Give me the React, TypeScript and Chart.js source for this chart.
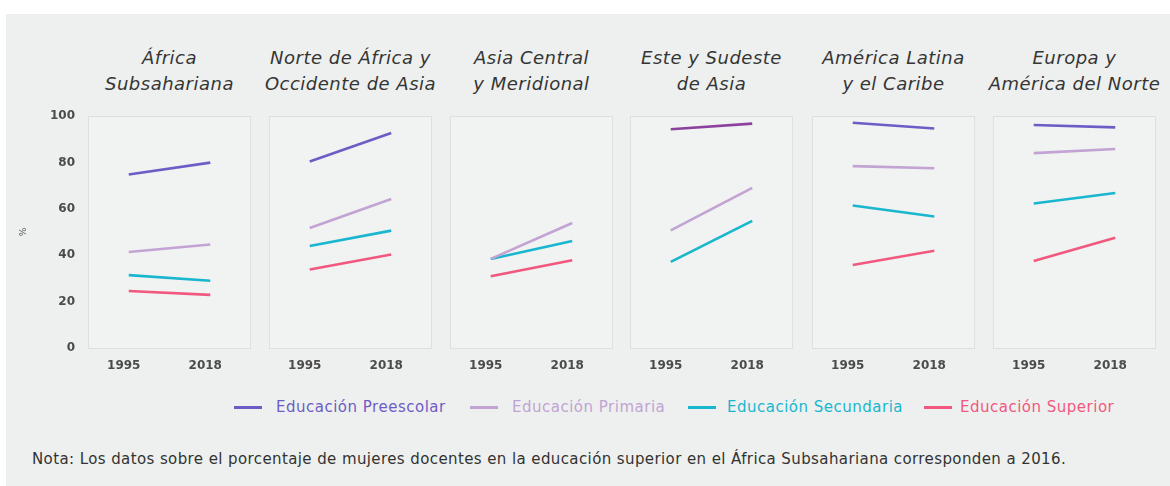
import React, { useEffect, useRef } from "react";
import { Chart, registerables } from "chart.js";
Chart.register(...registerables);

const years = ["1995", "2018"];
const regions = [
  ["África", "Subsahariana"],
  ["Norte de África y", "Occidente de Asia"],
  ["Asia Central", "y Meridional"],
  ["Este y Sudeste", "de Asia"],
  ["América Latina", "y el Caribe"],
  ["Europa y", "América del Norte"],
];
const seriesNames = ["Educación Preescolar", "Educación Primaria", "Educación Secundaria", "Educación Superior"];
// values per region: [1995, 2018]
const preescolar = [[74.8, 79.9], [80.4, 92.7], [null, null], [94.3, 96.7], [97.1, 94.6], [96.1, 95.1]];
const primaria = [[41.4, 44.6], [51.7, 64.2], [38.4, 53.9], [50.7, 69.0], [78.4, 77.5], [84.0, 85.8]];
const secundaria = [[31.4, 29.0], [44.0, 50.6], [38.4, 46.1], [37.1, 54.8], [61.4, 56.7], [62.3, 66.8]];
const superior = [[24.6, 22.9], [33.8, 40.3], [30.9, 37.8], [null, null], [35.8, 41.9], [37.5, 47.5]];
const yTicks = [0, 20, 40, 60, 80, 100];
const noteText =
  "Nota: Los datos sobre el porcentaje de mujeres docentes en la educación superior en el África Subsahariana corresponden a 2016.";

const seriesValues = [preescolar, primaria, secundaria, superior];
const seriesColors = ["#6e5cc6", "#c2a3d4", "#19b6cf", "#f2587f"];
const panelOverrideColor: Record<string, string> = { "3-0": "#8d419f" };

const panelLefts = [88, 269, 450, 630, 812, 993];
const panelWidth = 163;
const areaTop = 116;
const areaHeight = 232;
const xAxisHeight = 30;
const padTop = 10;
const yAxisWidth = 78;
const legendLineX = [234, 470, 688, 924];
const legendTextX = [276, 512, 727, 960];

const fontFamily = "'DejaVu Sans', sans-serif";
const tickFont = { family: fontFamily, size: 12, weight: "bold" as const };
const tickColor = "#4b4b4b";

const framePlugin = {
  id: "frame",
  beforeDraw(chart: any) {
    const { ctx, chartArea } = chart;
    if (!chartArea) return;
    ctx.save();
    ctx.fillStyle = "#f0f3f1";
    ctx.fillRect(chartArea.left, chartArea.top, chartArea.width, chartArea.height + 1);
    ctx.strokeStyle = "#dce1de";
    ctx.lineWidth = 1;
    ctx.strokeRect(
      Math.round(chartArea.left) + 0.5,
      Math.round(chartArea.top) + 0.5,
      Math.round(chartArea.width) - 1,
      Math.round(chartArea.height)
    );
    ctx.restore();
  },
};

function Panel({ index }: { index: number }) {
  const ref = useRef<HTMLCanvasElement | null>(null);
  const isFirst = index === 0;
  const padLeft = isFirst ? 0 : 10;
  const leftExtra = isFirst ? yAxisWidth : padLeft;
  const canvasLeft = panelLefts[index] - leftExtra;
  const canvasWidth = leftExtra + panelWidth + 10;
  const canvasHeight = padTop + areaHeight + xAxisHeight;

  useEffect(() => {
    if (!ref.current) return;
    const yScale: any = {
      display: isFirst,
      min: 0,
      max: 100,
      afterBuildTicks: (s: any) => {
        s.ticks = yTicks.map((v) => ({ value: v }));
      },
      grid: { display: false, drawTicks: false },
      border: { display: false },
      ticks: { font: tickFont, color: tickColor, padding: 13 },
      title: {
        display: true,
        text: "%",
        font: { family: fontFamily, size: 9 },
        color: "#555",
        padding: { top: 8, bottom: 0 },
      },
    };
    if (isFirst) {
      yScale.afterFit = (s: any) => {
        s.width = yAxisWidth;
        s.paddingTop = 0;
        s.paddingBottom = 0;
      };
    }
    const chart = new Chart(ref.current, {
      type: "line",
      data: {
        labels: years,
        datasets: seriesValues.map((vals, k) => ({
          label: seriesNames[k],
          data: vals[index],
          borderColor: panelOverrideColor[`${index}-${k}`] || seriesColors[k],
          backgroundColor: seriesColors[k],
          borderWidth: 2.6,
          pointRadius: 0,
          pointHoverRadius: 0,
          spanGaps: false,
          tension: 0,
        })),
      },
      options: {
        animation: false,
        responsive: false,
        maintainAspectRatio: false,
        layout: { padding: { left: padLeft, right: 10, top: padTop, bottom: 0 } },
        plugins: {
          legend: { display: false },
          tooltip: { enabled: false },
          title: { display: false },
        },
        scales: {
          x: {
            type: "category",
            offset: true,
            grid: { display: false, drawTicks: false },
            border: { display: false },
            ticks: { font: tickFont, color: tickColor, padding: 11, labelOffset: -5, maxRotation: 0, autoSkip: false },
            afterFit: (s: any) => {
              s.height = xAxisHeight;
              s.paddingLeft = 0;
              s.paddingRight = 0;
            },
          },
          y: yScale,
        },
      },
      plugins: [framePlugin],
    } as any);
    return () => chart.destroy();
  }, [index]);

  return (
    <canvas
      ref={ref}
      width={canvasWidth}
      height={canvasHeight}
      style={{
        position: "absolute",
        left: canvasLeft,
        top: areaTop - padTop,
        width: canvasWidth,
        height: canvasHeight,
      }}
    />
  );
}

export default function App() {
  return (
    <div style={{ position: "absolute", left: 0, top: 0, width: 1170, height: 486, background: "#ffffff", overflow: "hidden" }}>
      <div style={{ position: "absolute", left: 6, top: 14, width: 1164, height: 472, background: "#edf0ee" }} />
      {regions.map((lines, i) => (
        <div
          key={"t" + i}
          style={{
            position: "absolute",
            left: panelLefts[i] + panelWidth / 2 - 110,
            width: 220,
            top: 45,
            textAlign: "center",
            fontFamily,
            fontStyle: "italic",
            fontSize: 18,
            letterSpacing: "0.5px",
            lineHeight: "26px",
            color: "#353535",
            whiteSpace: "nowrap",
          }}
        >
          {lines[0]}
          <br />
          {lines[1]}
        </div>
      ))}
      {regions.map((_, i) => (
        <Panel key={"p" + i} index={i} />
      ))}
      {seriesNames.map((name, k) => (
        <React.Fragment key={"l" + k}>
          <div
            style={{
              position: "absolute",
              left: legendLineX[k],
              top: 406,
              width: 28,
              height: 2.5,
              background: seriesColors[k],
            }}
          />
          <div
            style={{
              position: "absolute",
              left: legendTextX[k],
              top: 397,
              fontFamily,
              fontSize: 15,
              letterSpacing: "0.5px",
              lineHeight: "20px",
              color: seriesColors[k],
              whiteSpace: "nowrap",
            }}
          >
            {name}
          </div>
        </React.Fragment>
      ))}
      <div
        style={{
          position: "absolute",
          left: 32,
          top: 449,
          fontFamily,
          fontSize: 15,
          letterSpacing: "0.4px",
          lineHeight: "20px",
          color: "#333333",
          whiteSpace: "nowrap",
        }}
      >
        {noteText}
      </div>
    </div>
  );
}
